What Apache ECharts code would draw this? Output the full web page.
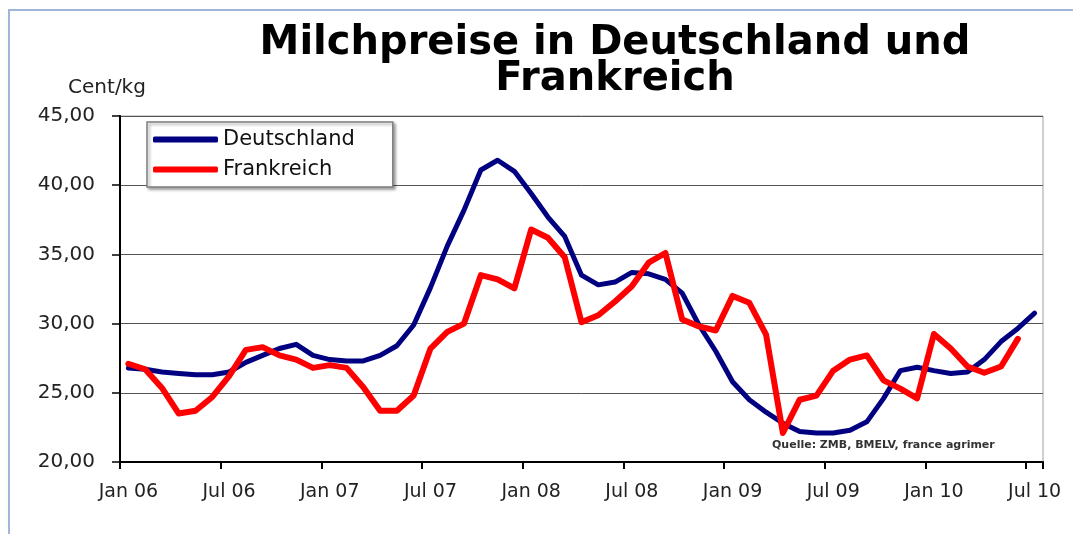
<!DOCTYPE html>
<html>

<head>
	<meta charset="utf-8">
	<title>Milchpreise</title>
	<script type="text/javascript" src="https://cdn.jsdelivr.net/npm/echarts@6/dist/echarts.min.js"></script>
	<style>
		html, body { margin: 0; padding: 0; background: #fff; }
		#DIV1 { width: 1073px; height: 534px; }
	</style>
</head>

<body>
	<div id="DIV1"></div>

	<script type="text/javascript">

		// months Jan 06 .. Jul 10
		const months = [
			"Jan 06","Feb 06","Mär 06","Apr 06","Mai 06","Jun 06","Jul 06","Aug 06","Sep 06","Okt 06","Nov 06","Dez 06",
			"Jan 07","Feb 07","Mär 07","Apr 07","Mai 07","Jun 07","Jul 07","Aug 07","Sep 07","Okt 07","Nov 07","Dez 07",
			"Jan 08","Feb 08","Mär 08","Apr 08","Mai 08","Jun 08","Jul 08","Aug 08","Sep 08","Okt 08","Nov 08","Dez 08",
			"Jan 09","Feb 09","Mär 09","Apr 09","Mai 09","Jun 09","Jul 09","Aug 09","Sep 09","Okt 09","Nov 09","Dez 09",
			"Jan 10","Feb 10","Mär 10","Apr 10","Mai 10","Jun 10","Jul 10"
		];

		// Cent/kg
		const deutschland = [
			26.8, 26.7, 26.5, 26.4, 26.3, 26.3, 26.5, 27.2, 27.7, 28.2, 28.5, 27.7,
			27.4, 27.3, 27.3, 27.7, 28.4, 29.9, 32.6, 35.6, 38.2, 41.1, 41.8, 41.0,
			39.4, 37.7, 36.3, 33.5, 32.8, 33.0, 33.7, 33.6, 33.2, 32.2, 29.9, 28.0,
			25.8, 24.5, 23.6, 22.8, 22.2, 22.1, 22.1, 22.3, 22.9, 24.6, 26.6, 26.85,
			26.6, 26.4, 26.5, 27.4, 28.7, 29.65, 30.75
		];

		const frankreich = [
			27.1, 26.7, 25.35, 23.5, 23.7, 24.7, 26.2, 28.1, 28.3, 27.7, 27.4, 26.8,
			27.0, 26.8, 25.4, 23.7, 23.7, 24.8, 28.2, 29.4, 30.0, 33.5, 33.2, 32.55,
			36.8, 36.2, 34.8, 30.1, 30.6, 31.6, 32.7, 34.4, 35.1, 30.3, 29.8, 29.5,
			32.0, 31.5, 29.2, 22.1, 24.5, 24.8, 26.6, 27.4, 27.7, 25.9, 25.3, 24.6,
			29.25, 28.2, 26.9, 26.45, 26.9, 28.9, null
		];

		const seriesNames = ["Deutschland", "Frankreich"];
		const source = "Quelle: ZMB, BMELV, france agrimer";

		const FONT = "DejaVu Sans";

		let chart = echarts.init(document.getElementById("DIV1"));

		const option = {
			animation: false,
			backgroundColor: "#fff",
			title: {
				text: "Milchpreise in Deutschland und\nFrankreich",
				left: 610,
				top: 21,
				textAlign: "center",
				textStyle: {
					fontFamily: FONT,
					fontWeight: "bold",
					fontSize: 40,
					lineHeight: 36,
					color: "#000"
				}
			},
			legend: {
				data: seriesNames,
				orient: "vertical",
				left: 147,
				top: 122,
				padding: [7, 38, 7, 6],
				itemGap: 9,
				itemWidth: 65,
				itemHeight: 6,
				icon: "roundRect",
				backgroundColor: "#fff",
				borderColor: "#7f7f7f",
				borderWidth: 1.5,
				shadowColor: "rgba(0,0,0,0.35)",
				shadowBlur: 3,
				shadowOffsetX: 2,
				shadowOffsetY: 2,
				textStyle: { fontFamily: FONT, fontSize: 21, color: "#111" }
			},
			grid: {
				left: 120,
				right: 30,
				top: 116,
				bottom: 72,
				show: true,
				borderColor: "#a0a0a0",
				borderWidth: 1
			},
			xAxis: {
				type: "category",
				data: months,
				boundaryGap: true,
				axisLine: { lineStyle: { color: "#000", width: 2 } },
				axisTick: { show: true, interval: 5, length: 7, alignWithLabel: false, lineStyle: { color: "#000", width: 2 } },
				axisLabel: { interval: 5, margin: 21, fontFamily: FONT, fontSize: 19, color: "#222" },
				splitLine: { show: false }
			},
			yAxis: {
				type: "value",
				min: 20,
				max: 45,
				interval: 5,
				name: "Cent/kg",
				nameLocation: "end",
				nameGap: 18,
				nameTextStyle: { fontFamily: FONT, fontSize: 20, color: "#222", align: "center", padding: [0, 26, 0, 0] },
				axisLine: { show: true, lineStyle: { color: "#000", width: 2 } },
				axisTick: { show: true, length: 8, lineStyle: { color: "#000", width: 1.5 } },
				axisLabel: {
					margin: 25,
					fontFamily: FONT,
					fontSize: 20,
					color: "#222",
					formatter: function(v){ return v.toFixed(2).replace(".", ","); }
				},
				splitLine: { lineStyle: { color: "#555", width: 1 } }
			},
			graphic: [
				{
					type: "rect",
					shape: { x: 9, y: 10, width: 1200, height: 700 },
					style: { fill: "none", stroke: "#9fb6da", lineWidth: 2 },
					silent: true
				},
				{
					type: "text",
					left: 772,
					top: 440,
					style: { text: source, fontFamily: FONT, fontSize: 11, fontWeight: "bold", fill: "#333" }
				}
			],
			series: [
				{
					name: seriesNames[0],
					type: "line",
					data: deutschland,
					symbol: "none",
					color: "#000080",
					lineStyle: { width: 5, cap: "round", join: "round" }
				},
				{
					name: seriesNames[1],
					type: "line",
					data: frankreich,
					symbol: "none",
					color: "#ff0000",
					lineStyle: { width: 6, cap: "round", join: "round" }
				}
			]
		};

		chart.setOption(option);
	</script>
</body>
</html>
